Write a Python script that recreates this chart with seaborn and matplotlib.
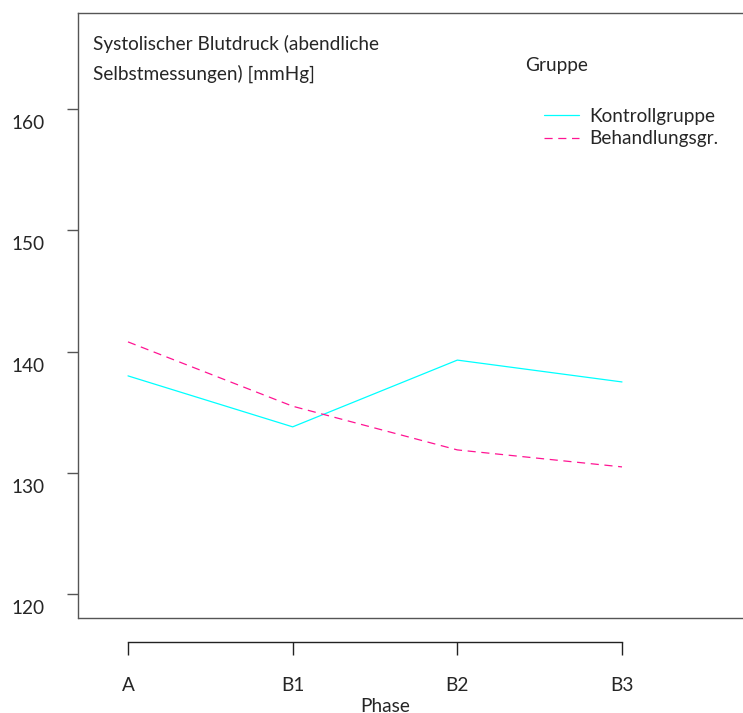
import matplotlib
matplotlib.use("Agg")
import matplotlib.pyplot as plt
from matplotlib.transforms import ScaledTranslation
from matplotlib.lines import Line2D
import seaborn as sns
import pandas as pd

phases = ["A", "B1", "B2", "B3"]
kontroll = [138.0, 133.8, 139.3, 137.5]
behandlung = [140.8, 135.5, 131.9, 130.5]
groups = ["Kontrollgruppe", "Behandlungsgr."]
yticks = [120, 130, 140, 150, 160]

df = pd.DataFrame({
    "Phase": list(range(len(phases))) * 2,
    "Wert": kontroll + behandlung,
    "Gruppe": [groups[0]] * len(phases) + [groups[1]] * len(phases),
})

sns.set_theme(style="white")
plt.rcParams["font.family"] = ["Lato", "DejaVu Sans"]
FS = 13.7
SPC = "#555555"

fig = plt.figure(figsize=(7.43, 7.13), dpi=100)
W, H = 743, 713
ax = fig.add_axes([78 / W, (H - 618) / H, (743 - 78) / W, (618 - 13) / H])

palette = {groups[0]: "#00ffff", groups[1]: "#ff1493"}
dashes = {groups[0]: "", groups[1]: (6.5, 4.5)}
sns.lineplot(data=df, x="Phase", y="Wert", hue="Gruppe", style="Gruppe",
             palette=palette, dashes=dashes, linewidth=0.9, ax=ax, legend=False)

ax.set_xlim(-50 / 164.67, 3 + 121 / 164.67)
ax.set_ylim(118.05, 167.9)

# spines
for s in ["left", "top", "bottom"]:
    ax.spines[s].set_visible(True)
    ax.spines[s].set_color(SPC)
    ax.spines[s].set_linewidth(1.0)
ax.spines["right"].set_visible(False)
ax.spines["bottom"].set_position(("outward", 17.3))
ax.spines["bottom"].set_bounds(0, 3)
ax.spines["bottom"].set_color("#222222")
ax.plot([0, 1], [0, 0], transform=ax.transAxes, color=SPC, lw=1.0, clip_on=False)

ax.set_yticks(yticks)
ax.set_yticklabels([str(v) for v in yticks], fontsize=FS)
ax.set_xticks(range(len(phases)))
ax.set_xticklabels(phases, fontsize=FS)
ax.tick_params(axis="y", which="major", left=True, length=8, width=1.0, color=SPC, pad=16)
ax.tick_params(axis="x", which="major", bottom=True, length=9.5, width=1.0, color="#222222", pad=16)
for lab in ax.get_yticklabels():
    lab.set_transform(lab.get_transform() + ScaledTranslation(0, -13 / 100, fig.dpi_scale_trans))
ax.set_xlabel("")
ax.set_ylabel("")

ax.text(93, H - 44, "Systolischer Blutdruck (abendliche", transform=None, fontsize=FS,
        va="center", ha="left")
ax.text(93, H - 74, "Selbstmessungen) [mmHg]", transform=None, fontsize=FS,
        va="center", ha="left")
ax.text(385, H - 706, "Phase", transform=None, fontsize=FS, va="center", ha="center")
ax.text(525, H - 66, "Gruppe", transform=None, fontsize=FS, va="center", ha="left")

handles = [Line2D([], [], color=palette[groups[0]], lw=0.9),
           Line2D([], [], color=palette[groups[1]], lw=0.9, dashes=(6.5, 4.5))]
leg = ax.legend(handles, groups, frameon=False, fontsize=FS, loc="upper left",
                bbox_to_anchor=(536 / W, (H - 100) / H), bbox_transform=fig.transFigure,
                handlelength=1.85, handletextpad=0.55, labelspacing=0.3, borderaxespad=0)

fig.savefig("out.png", dpi=100, facecolor="white")
